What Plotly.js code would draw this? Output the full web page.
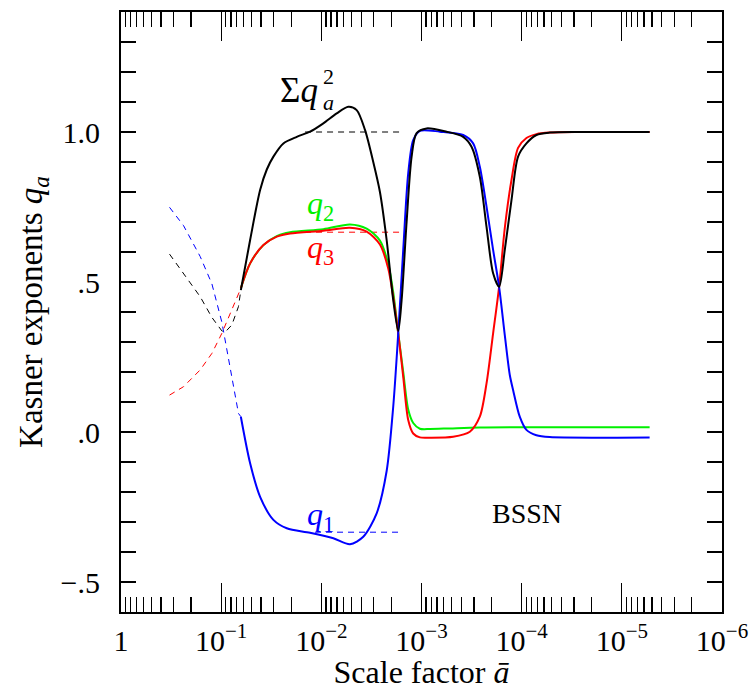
<!DOCTYPE html>
<html><head><meta charset="utf-8">
<script src="https://cdn.plot.ly/plotly-3.0.1.min.js"></script>
<style>body{margin:0;background:#fff}</style>
</head><body><div id="plot" style="width:750px;height:690px"></div>
<script>
// ---- data: scale factor a (log axis, decreasing to the right) and Kasner exponents ----
// early epoch (dashed)
const aEarly   = [0.3278, 0.2376, 0.1620, 0.1238, 0.0984, 0.0912, 0.0782, 0.0672, 0.0636];
const q1Early  = [0.749, 0.688, 0.585, 0.494, 0.366, 0.307, 0.184, 0.062, 0.051];
const sumEarly = [0.593, 0.529, 0.451, 0.382, 0.337, 0.333, 0.357, 0.418, 0.473];
const q3Early  = [0.123, 0.151, 0.207, 0.262, 0.329, 0.356, 0.409, 0.462, 0.479];

// BSSN evolution (solid)
const aQ1 = [0.0636, 0.0514, 0.04085, 0.0301, 0.02213, 0.01296, 0.007594, 0.005176, 0.003814, 0.002803, 0.002228, 0.001915, 0.001707, 0.001522, 0.001357, 0.00121, 0.001038, 0.000655, 0.0003838, 0.0003051, 0.0002617, 0.0002243, 0.0001928, 0.000168, 0.0001474, 0.0001314, 0.0001218, 0.0001045, 8.96e-5, 7.12e-5, 5.25e-5, 5.28e-6];
const q1  = [0.051, -0.104, -0.216, -0.293, -0.321, -0.336, -0.354, -0.374, -0.349, -0.271, -0.13, 0.085, 0.329, 0.607, 0.862, 0.973, 1.004, 1.001, 0.990, 0.962, 0.884, 0.751, 0.607, 0.484, 0.323, 0.19, 0.14, 0.051, 0.007, -0.011, -0.017, -0.018];

const aQ2 = [0.0636, 0.0514, 0.03787, 0.02784, 0.02051, 0.00955, 0.005176, 0.003526, 0.0026, 0.002148, 0.001915, 0.001707, 0.001522, 0.001357, 0.00121, 0.001038, 0.000824, 0.000521, 0.0002617, 5.28e-6];
const q2  = [0.479, 0.562, 0.623, 0.653, 0.666, 0.676, 0.692, 0.678, 0.638, 0.56, 0.465, 0.329, 0.200, 0.075, 0.030, 0.011, 0.010, 0.012, 0.015, 0.016];

const aQ3 = [0.0636, 0.0514, 0.03787, 0.02784, 0.02051, 0.00955, 0.005176, 0.003526, 0.0026, 0.002148, 0.001915, 0.001707, 0.001522, 0.001357, 0.00121, 0.001038, 0.000824, 0.000483, 0.000329, 0.0002617, 0.0002243, 0.0001928, 0.000168, 0.0001474, 0.0001264, 0.0001086, 8.96e-5, 7.12e-5, 5.25e-5, 2.635e-5, 5.28e-6];
const q3  = [0.479, 0.562, 0.623, 0.651, 0.662, 0.671, 0.681, 0.668, 0.625, 0.545, 0.45, 0.329, 0.184, 0.04, -0.005, -0.018, -0.019, -0.016, 0.001, 0.051, 0.162, 0.329, 0.484, 0.680, 0.840, 0.947, 0.980, 0.993, 0.998, 1.0, 1.0];

const aSum = [0.0636, 0.0514, 0.04085, 0.03503, 0.0301, 0.02393, 0.01759, 0.01296, 0.00955, 0.007022, 0.005379, 0.004436, 0.003666, 0.003031, 0.0026, 0.002228, 0.001915, 0.001707, 0.001579, 0.001408, 0.001255, 0.001119, 0.000889, 0.0005622, 0.0003838, 0.0003166, 0.0002617, 0.0002243, 0.0001928, 0.000168, 0.0001474, 0.0001264, 0.0001086, 8.96e-5, 7.12e-5, 5.25e-5, 2.635e-5, 5.28e-6];
const sumSq = [0.473, 0.640, 0.807, 0.875, 0.918, 0.962, 0.984, 1.001, 1.029, 1.062, 1.084, 1.073, 1.007, 0.90, 0.80, 0.64, 0.44, 0.337, 0.440, 0.70, 0.918, 0.996, 1.012, 1.001, 0.984, 0.951, 0.851, 0.684, 0.529, 0.484, 0.607, 0.773, 0.918, 0.962, 0.990, 0.998, 1.0, 1.0];

// Kasner reference values (dashed horizontals)
const aAsym   = [0.01454, 0.001532];
const aAsymQ1 = [0.01156, 0.001532];
const sumAsym = [1.0, 1.0];
const q3Asym  = [0.666, 0.666];
const q1Asym  = [-0.334, -0.334];

// axis ticks
const xTickVals = [1, 1e-1, 1e-2, 1e-3, 1e-4, 1e-5, 1e-6];
const xTickText = ['1', '10<sup>−1</sup>', '10<sup>−2</sup>', '10<sup>−3</sup>', '10<sup>−4</sup>', '10<sup>−5</sup>', '10<sup>−6</sup>'];
const yTickVals = [-0.5, 0, 0.5, 1.0];
const yTickText = ['−.5', '.0', '.5', '1.0'];

// ---- styling ----
const FONT = 'Liberation Serif, Times New Roman, serif';
const BLUE = '#0000ff', GREEN = '#00f000', RED = '#ff0000', BLACK = '#000000';
const solid = c => ({color: c, width: 2, shape: 'spline', smoothing: 0.8});
const dashed = c => ({color: c, width: 1, dash: '6px,5px'});

const traces = [
  {x: aEarly, y: q1Early, mode: 'lines', line: dashed(BLUE)},
  {x: aEarly, y: sumEarly, mode: 'lines', line: dashed(BLACK)},
  {x: aEarly, y: q3Early, mode: 'lines', line: dashed(RED)},
  {x: aAsym, y: sumAsym, mode: 'lines', line: dashed(BLACK)},
  {x: aAsym, y: q3Asym, mode: 'lines', line: dashed(RED)},
  {x: aAsymQ1, y: q1Asym, mode: 'lines', line: dashed(BLUE)},
  {x: aQ2, y: q2, mode: 'lines', line: solid(GREEN)},
  {x: aQ3, y: q3, mode: 'lines', line: solid(RED)},
  {x: aQ1, y: q1, mode: 'lines', line: solid(BLUE)},
  {x: aSum, y: sumSq, mode: 'lines', line: solid(BLACK)}
];

const L = 121, R = 722, T = 12, B = 612;
const px = x => (x - L) / (R - L);
const py = y => (B - y) / (B - T);
const ann = (x, y, text, size, color, xa) => ({
  xref: 'paper', yref: 'paper', x: px(x), y: py(y), text: text, showarrow: false,
  xanchor: xa || 'center', yanchor: 'middle', font: {family: FONT, size: size, color: color}
});

const layout = {
  width: 750, height: 690,
  margin: {l: L, r: 750 - R, t: T, b: 690 - B},
  paper_bgcolor: '#fff', plot_bgcolor: '#fff',
  showlegend: false,
  font: {family: FONT, size: 30, color: BLACK},
  xaxis: {
    type: 'log', range: [0, -6], autorange: false,
    tickmode: 'array', tickvals: xTickVals, ticktext: xTickText,
    ticks: 'inside', ticklen: 29, tickwidth: 1.3, tickcolor: BLACK,
    minor: {ticks: 'inside', ticklen: 15, tickwidth: 1.3, tickcolor: BLACK, dtick: 'D1', showgrid: false},
    showline: true, linewidth: 2, linecolor: BLACK, mirror: 'allticks',
    showgrid: false, zeroline: false,
    tickfont: {family: FONT, size: 30},
    ticklabelstandoff: 1,
    title: {text: 'Scale factor <i>ā</i>', font: {family: FONT, size: 32}, standoff: 7}
  },
  yaxis: {
    range: [-0.6, 1.4], autorange: false,
    tickmode: 'array', tickvals: yTickVals, ticktext: yTickText,
    ticks: 'inside', ticklen: 15, tickwidth: 1.3, tickcolor: BLACK,
    minor: {ticks: 'inside', ticklen: 15, tickwidth: 1.3, tickcolor: BLACK, dtick: 0.1, tick0: 0, showgrid: false},
    showline: true, linewidth: 2, linecolor: BLACK, mirror: 'allticks',
    showgrid: false, zeroline: false,
    tickfont: {family: FONT, size: 30},
    ticklabelstandoff: 13,
    title: {text: 'Kasner exponents <i>q<sub>a</sub></i>', font: {family: FONT, size: 33}, standoff: 8}
  },
  annotations: [
    ann(320, 90, 'Σ<i>q</i>', 35, BLACK, 'right'),
    ann(321, 103, '<i>a</i>', 22, BLACK, 'left'),
    ann(321, 76, '2', 22, BLACK, 'left'),
    ann(320, 205, '<i>q</i><sub>2</sub>', 32, GREEN),
    ann(320, 250, '<i>q</i><sub>3</sub>', 32, RED),
    ann(320, 516, '<i>q</i><sub>1</sub>', 32, BLUE),
    ann(527, 513, 'BSSN', 28, BLACK)
  ]
};

Plotly.newPlot('plot', traces, layout, {staticPlot: true, displayModeBar: false});
</script></body></html>
